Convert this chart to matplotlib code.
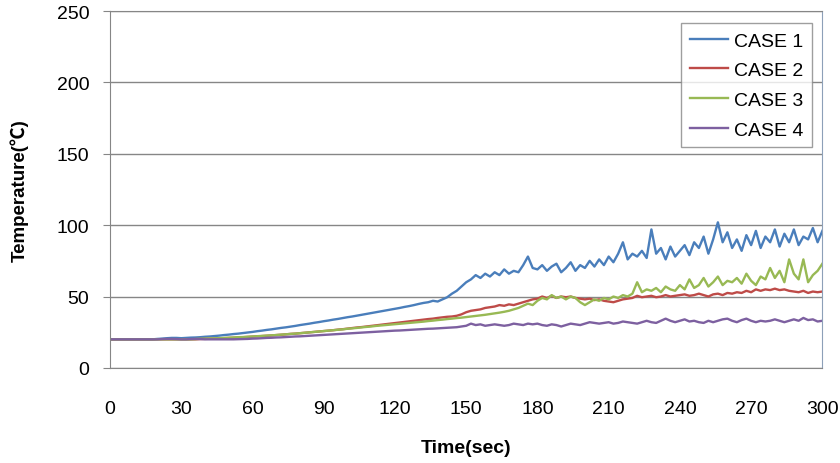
import numpy as np
import matplotlib
matplotlib.use("Agg")
import matplotlib.pyplot as plt

plt.rcParams['font.family'] = ['Liberation Sans', 'Noto Sans CJK KR', 'DejaVu Sans']

# time axis, one reading every 2 seconds
time_sec = np.arange(0, 301, 2)

case1 = [
    20, 20, 20, 20, 20, 20, 20, 20, 20, 20, 20.3,
    20.5, 20.8, 21, 21, 20.8, 21, 21.2, 21.3, 21.5, 21.8,
    22, 22.3, 22.6, 23, 23.3, 23.7, 24, 24.4, 24.8, 25.2,
    25.7, 26.1, 26.6, 27, 27.5, 28, 28.4, 28.9, 29.4, 30,
    30.5, 31, 31.6, 32.1, 32.7, 33.2, 33.8, 34.3, 34.9, 35.5,
    36, 36.6, 37.2, 37.8, 38.4, 39, 39.6, 40.2, 40.8, 41.4,
    42, 42.7, 43.3, 44, 44.8, 45.5, 46, 47, 46.5, 48,
    49.5, 52, 54, 57, 60, 62, 65, 63, 66, 64,
    67, 65, 69, 66, 68, 67, 72, 78, 70, 69,
    72, 68, 71, 73, 67, 70, 74, 68, 72, 70,
    75, 71, 76, 72, 78, 74, 80, 88, 76, 80,
    78, 82, 77, 97, 80, 84, 76, 85, 78, 82,
    86, 79, 88, 84, 92, 80, 90, 102, 88, 95,
    84, 90, 82, 93, 86, 96, 84, 92, 88, 97,
    85, 94, 88, 97, 86, 92, 90, 98, 88, 96,
]

case2 = [
    20, 20, 20, 20, 20, 20, 20, 20, 20, 20, 20,
    20, 20, 20, 20, 20, 20, 20, 20, 20.2, 20.3,
    20.4, 20.5, 20.6, 20.8, 21, 21.1, 21.3, 21.5, 21.7, 21.9,
    22.1, 22.3, 22.5, 22.7, 23, 23.2, 23.5, 23.8, 24, 24.3,
    24.6, 24.9, 25.2, 25.5, 25.8, 26.1, 26.4, 26.8, 27.1, 27.5,
    27.9, 28.3, 28.6, 29, 29.4, 29.8, 30.2, 30.6, 31, 31.4,
    31.8, 32.2, 32.6, 33, 33.4, 33.8, 34.2, 34.5, 35, 35.4,
    35.8, 36, 36.5, 37.5, 39, 40, 40.5, 41, 42, 42.5,
    43, 44, 43.5, 44.5, 44, 45, 46, 47, 48, 48.5,
    50, 49, 50.5, 49, 50, 49.5, 50, 49, 48.5, 48,
    48.5, 47.5, 48, 47, 46.5, 46, 47, 48, 48.5, 49,
    50.5, 49.5, 50, 50.5, 49.5, 50, 51, 50, 50.5, 51,
    51.5, 50.5, 51, 52, 51, 50, 51.5, 52, 51, 52.5,
    52, 53, 52.5, 54, 53, 55, 54, 55, 54.5, 55.5,
    54.5, 55, 54, 53.5, 53, 54, 52.5, 53.5, 53, 53.5,
]

case3 = [
    20, 20, 20, 20, 20, 20, 20, 20, 20, 20, 20,
    20, 20, 20, 20, 20, 20, 20, 20.2, 20.4, 20.5,
    20.6, 20.7, 20.8, 21, 21.1, 21.3, 21.5, 21.6, 21.8, 22,
    22.2, 22.4, 22.6, 22.8, 23, 23.3, 23.5, 23.8, 24, 24.3,
    24.6, 24.9, 25.2, 25.5, 25.8, 26.1, 26.4, 26.7, 27, 27.4,
    27.7, 28, 28.4, 28.7, 29, 29.4, 29.7, 30, 30.3, 30.6,
    30.9, 31.2, 31.5, 31.8, 32.1, 32.4, 32.8, 33.1, 33.5, 33.8,
    34.2, 34.5, 34.9, 35.2, 35.6, 36, 36.4, 36.8, 37.2, 37.7,
    38.2, 38.7, 39.3, 40, 41, 42, 43.5, 45, 44, 47,
    49, 48, 51, 49, 50, 48, 50, 49, 46, 44,
    46, 48, 47, 49, 48, 50, 49, 51, 50, 52,
    60, 53, 55, 54, 56, 53, 57, 55, 54, 58,
    55, 62, 56, 58, 63, 57, 60, 64, 58, 61,
    60, 63, 59, 66, 61, 58, 64, 62, 70, 63,
    68, 60, 76, 66, 62, 76, 60, 65, 68, 73,
]

case4 = [
    20, 20, 20, 20, 20, 20, 20, 20, 20, 20, 20,
    20.2, 20.3, 20.3, 20.2, 20, 20, 20.2, 20.3, 20.2, 20,
    20, 20, 20, 20, 20, 20, 20.1, 20.2, 20.3, 20.5,
    20.6, 20.8, 21, 21.1, 21.3, 21.4, 21.6, 21.8, 22, 22.1,
    22.3, 22.5, 22.7, 22.9, 23.1, 23.3, 23.5, 23.7, 23.9, 24.1,
    24.3, 24.5, 24.7, 24.9, 25.1, 25.3, 25.5, 25.7, 25.9, 26.1,
    26.2, 26.4, 26.6, 26.8, 27, 27.2, 27.4, 27.5, 27.7, 27.9,
    28.1, 28.3, 28.5, 29, 29.5, 31, 30, 30.5, 29.5, 30,
    30.5, 30, 29.5, 30, 31, 30.5, 30, 31, 30.5, 31,
    30, 29.5, 30.5, 30, 29, 30, 31, 30.5, 30, 31,
    32, 31.5, 31, 31.5, 32, 31, 31.5, 32.5, 32, 31.5,
    31, 32, 33, 32, 31.5, 33, 34.5, 33, 32, 33,
    34, 32.5, 33, 32, 31.5, 33, 32, 33, 34, 34.5,
    33, 32, 33.5, 34.5, 33, 32, 33, 32.5, 33, 34,
    33, 32, 33, 34, 33, 35, 33.5, 34, 32.5, 33,
]

labels = ["CASE 1", "CASE 2", "CASE 3", "CASE 4"]
colors = ["#4a7ebb", "#be4b48", "#98b954", "#7d60a0"]
x_ticks = list(range(0, 301, 30))
y_ticks = [0, 50, 100, 150, 200, 250]

fig = plt.figure(figsize=(8.4, 4.64), dpi=100)
ax = fig.add_axes([0.131, 0.205, 0.848, 0.769])

for series, lab, col in zip([case1, case2, case3, case4], labels, colors):
    ax.plot(time_sec, series, color=col, lw=1.7, label=lab)

ax.set_xlim(0, 300)
ax.set_ylim(0, 250)
ax.set_xticks(x_ticks)
ax.set_yticks(y_ticks)
ax.grid(axis="y", color="#868686", lw=1)
ax.set_axisbelow(True)

for side in ["left", "bottom", "top"]:
    ax.spines[side].set_color("#868686")
ax.spines["right"].set_color("#8da0b8")

ax.tick_params(axis="y", direction="out", length=5, color="#868686",
               labelsize=14, pad=10)
ax.tick_params(axis="x", length=0, labelsize=14, pad=23)

ax.set_xlabel("Time(sec)", fontsize=14, fontweight="bold", labelpad=16)
ax.set_ylabel("Temperature(℃)", fontsize=13.5, fontweight="bold", labelpad=20)

leg = ax.legend(loc="upper right", bbox_to_anchor=(0.986, 0.966), fontsize=14,
                frameon=True, fancybox=False, handlelength=2.0,
                borderpad=0.45, labelspacing=0.62, handletextpad=0.3,
                borderaxespad=0)
leg.get_frame().set_edgecolor("#868686")
leg.get_frame().set_linewidth(1)

plt.savefig("out.png", dpi=100)
